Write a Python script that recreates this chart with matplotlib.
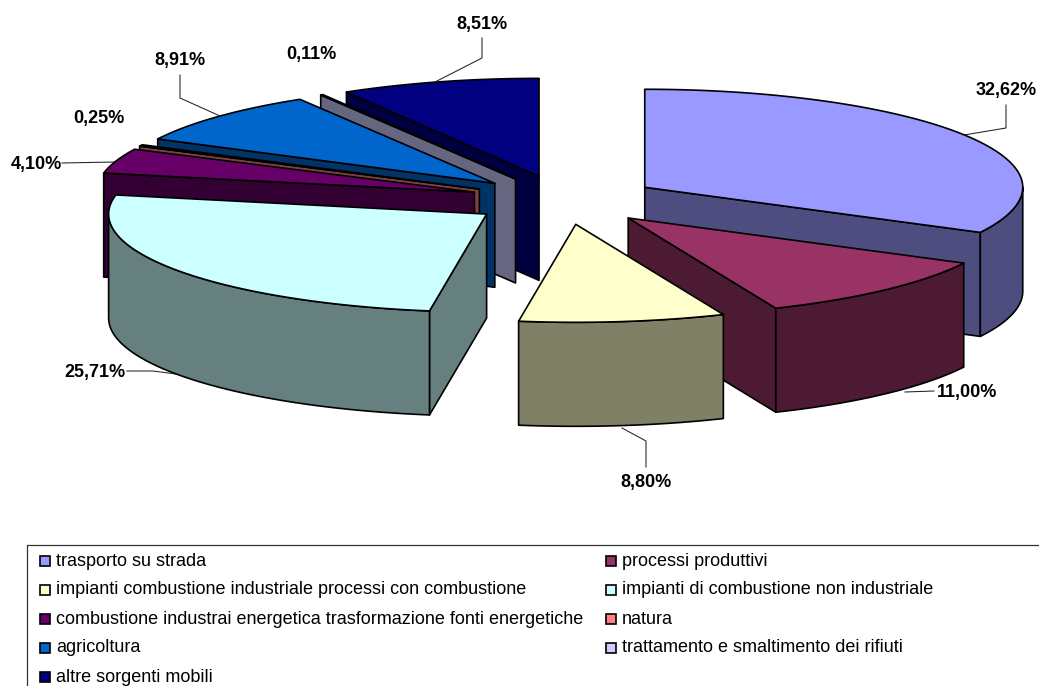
import numpy as np
import matplotlib
matplotlib.use('Agg')
import matplotlib.pyplot as plt

plt.rcParams['font.family'] = ['Liberation Sans', 'DejaVu Sans']

# data
categories = ['trasporto su strada', 'processi produttivi',
              'impianti combustione industriale processi con combustione',
              'impianti di combustione non industriale',
              'combustione industrai energetica trasformazione fonti energetiche',
              'natura', 'agricoltura', 'trattamento e smaltimento dei rifiuti',
              'altre sorgenti mobili']
values = [32.62, 11.00, 8.80, 25.71, 4.10, 0.25, 8.91, 0.11, 8.51]
colors = ['#9999FF', '#993366', '#FFFFCC', '#CCFFFF', '#660066',
          '#FF8080', '#0066CC', '#CCCCFF', '#000080']
label_text = ['32,62%', '11,00%', '8,80%', '25,71%', '4,10%',
              '0,25%', '8,91%', '0,11%', '8,51%']

# pie geometry, in pixels
cx, cy = 564, 200
rx, ry = 378, 98
depth = 104
explode = 0.25

label_pos = [(1006, 91), (967, 392), (646, 482), (95, 373), (36, 164),
             (99, 119), (180, 61), (311, 54), (482, 25)]
leaders = [[(1006, 105), (1006, 128), (964, 135)],
           [(934, 391), (905, 392)],
           [(646, 467), (646, 441), (622, 428)],
           [(127, 371), (153, 371), (176, 374)],
           [(62, 163), (115, 162)],
           None,
           [(180, 75), (180, 98), (220, 116)],
           None,
           [(482, 38), (482, 58), (435, 82)]]


def rim(ox, oy, t):
    # t = degrees clockwise from 12 o'clock
    r = np.radians(t)
    return ox + rx * np.sin(r), oy - ry * np.cos(r)


def shade(c):
    return tuple(v * 0.5 for v in matplotlib.colors.to_rgb(c))


fig = plt.figure(figsize=(10.39, 6.86), dpi=100)
ax = fig.add_axes([0, 0, 1, 1])
ax.set_xlim(0, 1039)
ax.set_ylim(686, 0)
ax.axis('off')

edges = np.concatenate([[0], np.cumsum(values)]) / sum(values) * 360

slices = []
for i in range(len(values)):
    t0, t1 = edges[i], edges[i + 1]
    mid = np.radians((t0 + t1) / 2)
    ox = cx + explode * rx * np.sin(mid)
    oy = cy - explode * ry * np.cos(mid)
    slices.append((oy, i, ox, t0, t1))

# leader lines sit behind the pie
for line in leaders:
    if line:
        xs, ys = zip(*line)
        ax.plot(xs, ys, color='#222222', lw=0.75, zorder=1)

# back slices first
for n, (oy, i, ox, t0, t1) in enumerate(sorted(slices)):
    z = 2 + n
    kw = dict(edgecolor='black', linewidth=1.2, joinstyle='round', zorder=z)
    wall = shade(colors[i])

    # flat cut faces, only the ones turned to the viewer
    for t, show in ((t0, np.sin(np.radians(t0)) < 0), (t1, np.sin(np.radians(t1)) > 0)):
        if show:
            x, y = rim(ox, oy, t)
            ax.fill([ox, x, x, ox], [oy, y, y + depth, oy + depth], facecolor=wall, **kw)

    # outer wall, front half only
    a, b = max(t0, 90), min(t1, 270)
    if a < b:
        tt = np.linspace(a, b, 80)
        x, y = rim(ox, oy, tt)
        ax.fill(np.r_[x, x[::-1]], np.r_[y, y[::-1] + depth], facecolor=wall, **kw)

    # top
    tt = np.linspace(t0, t1, 150)
    x, y = rim(ox, oy, tt)
    ax.fill(np.r_[ox, x], np.r_[oy, y], facecolor=colors[i], **kw)

for txt, (x, y) in zip(label_text, label_pos):
    ax.text(x, y, txt, fontsize=13, fontweight='bold', ha='center', va='center', zorder=31)

# legend box runs off the picture
ax.plot([1039, 27, 27], [545, 545, 686], color='#333333', lw=0.9, zorder=30)
col_x = [40, 606]
row_y = [561, 590, 619, 648, 677]
for i, name in enumerate(categories):
    x = col_x[i % 2]
    y = row_y[i // 2]
    ax.add_patch(plt.Rectangle((x, y - 5), 10, 10, facecolor=colors[i], edgecolor='black',
                               linewidth=1.2, zorder=30))
    ax.text(x + 16, y, name, fontsize=12.95, ha='left', va='center', zorder=31)

fig.savefig('out.png', dpi=100)
